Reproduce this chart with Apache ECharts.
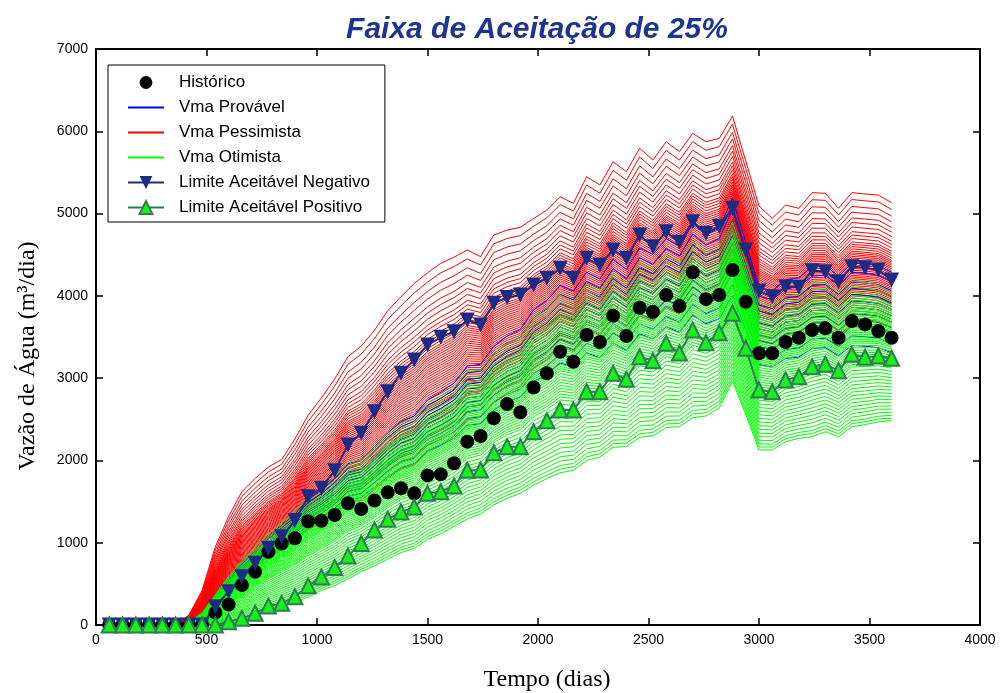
<!DOCTYPE html>
<html>
<head>
<meta charset="utf-8">
<title>Faixa de Aceitação de 25%</title>
<script src="https://cdn.jsdelivr.net/npm/echarts@6/dist/echarts.min.js"></script>
<style>
  html, body { margin: 0; padding: 0; background: #fff; }
  #grafico { width: 1004px; height: 693px; }
</style>
</head>
<body>
<div id="grafico"></div>
<script>
// tempo (dias), passo de 60 dias
var tempo = [60,120,180,240,300,360,420,480,540,600,660,720,780,840,900,960,1020,1080,1140,1200,
  1260,1320,1380,1440,1500,1560,1620,1680,1740,1800,1860,1920,1980,2040,2100,2160,2220,2280,2340,2400,
  2460,2520,2580,2640,2700,2760,2820,2880,2940,3000,3060,3120,3180,3240,3300,3360,3420,3480,3540,3600];

// dados observados
var historico = [0,0,0,0,0,0,0,0,150,250,486,646,890,990,1055,1260,1266,1337,1480,1410,
  1513,1612,1662,1600,1818,1831,1965,2228,2297,2512,2686,2585,2886,3058,3321,3200,3524,3440,3757,3512,
  3856,3807,4010,3876,4286,3960,4010,4314,3929,3302,3302,3439,3490,3584,3605,3491,3694,3653,3572,3491];

var limiteNegativo = [0,0,0,0,0,0,0,0,223,405,587,750,932,1073,1270,1559,1661,1875,2187,2329,
  2592,2835,3059,3220,3403,3496,3564,3706,3646,3909,3980,4010,4132,4213,4335,4213,4456,4375,4557,4456,
  4739,4597,4779,4650,4901,4760,4845,5064,4557,4060,3990,4111,4104,4306,4293,4172,4354,4342,4314,4192];

var limitePositivo = [0,0,0,0,0,0,0,0,0,40,81,142,230,263,344,476,584,700,840,990,
  1154,1286,1372,1433,1600,1620,1690,1880,1884,2094,2167,2167,2349,2483,2613,2613,2835,2835,3059,2986,
  3260,3212,3423,3305,3585,3431,3552,3788,3363,2856,2835,2977,3017,3139,3168,3091,3289,3253,3269,3241];

// curvas de referência das simulações
var pessimistaMax = [0,0,0,0,0,0,120,420,950,1320,1620,1780,1920,2010,2260,2550,2760,2990,3260,3390,
  3580,3820,3990,4150,4280,4395,4470,4557,4476,4739,4800,4833,4940,5043,5205,5124,5448,5347,5630,5509,
  5793,5650,5873,5752,5975,5873,5914,6185,5640,5092,4942,5104,5064,5254,5246,5064,5254,5238,5225,5132];

var provavelRef = [0,0,0,0,0,0,30,120,300,480,650,800,940,1060,1180,1340,1440,1560,1720,1760,
  1900,2050,2170,2230,2400,2480,2580,2760,2780,2970,3080,3150,3360,3460,3620,3560,3760,3690,3900,3790,
  4020,3950,4120,4040,4280,4160,4230,4550,4080,3600,3560,3680,3700,3820,3830,3720,3860,3850,3830,3760];

var otimistaMin = [0,0,0,0,0,0,0,0,0,0,40,130,180,230,280,340,420,480,560,650,
  720,800,880,930,1040,1110,1200,1290,1350,1460,1540,1600,1700,1780,1850,1880,2000,2040,2160,2170,
  2280,2300,2400,2410,2520,2540,2640,2960,2560,2127,2127,2228,2268,2288,2349,2288,2410,2435,2470,2483];

// posição de cada membro do conjunto dentro da sua faixa
var pesosPessimista = [-0.15,-0.1,-0.06,-0.03,0,0.02,0.04,0.06,0.08,0.1,0.115,0.13,0.145,0.16,0.175,
  0.19,0.205,0.22,0.235,0.25,0.265,0.28,0.295,0.31,0.325,0.34,0.355,0.37,0.385,0.4,0.415,0.43,0.445,
  0.46,0.475,0.49,0.51,0.53,0.55,0.57,0.6,0.63,0.66,0.7,0.74,0.78,0.83,0.88,0.94,1.0];
var pesosOtimista = [0,0.025,0.05,0.08,0.11,0.14,0.17,0.2,0.23,0.26,0.29,0.32,0.35,0.38,0.41,0.44,0.47,
  0.5,0.52,0.54,0.56,0.58,0.6,0.62,0.64,0.66,0.68,0.7,0.715,0.73,0.745,0.76,0.775,0.79,0.805,0.82,
  0.835,0.85,0.865,0.88,0.895,0.91,0.925,0.94,0.955,0.97,0.985,1.0,1.02,1.04,1.06,1.08,1.1,1.13,1.17,1.22];
var fatoresProvavel = [0.88,0.91,0.94,0.96,0.98,1.0,1.02,1.04,1.06,1.08,1.11,1.14];

var chartDom = document.getElementById('grafico');
var myChart = echarts.init(chartDom);

function pares(valores) {
  return tempo.map(function (t, i) { return [t, valores[i]]; });
}

function linha(nome, valores, cor) {
  return {
    name: nome,
    type: 'line',
    data: pares(valores),
    symbol: 'none',
    silent: true,
    lineStyle: { color: cor, width: 1 },
    itemStyle: { color: 'rgba(0,0,0,0)', borderWidth: 0 }
  };
}

var series = [];
pesosPessimista.forEach(function (w) {
  series.push(linha('Vma Pessimista', provavelRef.map(function (v, i) {
    return v + w * (pessimistaMax[i] - v);
  }), '#ff0000'));
});
fatoresProvavel.forEach(function (f) {
  series.push(linha('Vma Provável', provavelRef.map(function (v) { return v * f; }), '#0000ff'));
});
pesosOtimista.forEach(function (w) {
  series.push(linha('Vma Otimista', otimistaMin.map(function (v, i) {
    return v + w * (provavelRef[i] - v);
  }), '#00ff00'));
});

series.push({
  name: 'Histórico',
  type: 'line',
  data: pares(historico),
  symbol: 'circle',
  symbolSize: 14,
  showAllSymbol: true,
  lineStyle: { opacity: 0 },
  itemStyle: { color: '#000' }
});
series.push({
  name: 'Limite Aceitável Negativo',
  type: 'line',
  data: pares(limiteNegativo),
  symbol: 'triangle',
  symbolRotate: 180,
  symbolSize: 15,
  showAllSymbol: true,
  lineStyle: { color: '#1c2c84', width: 2 },
  itemStyle: { color: '#1c2c84' }
});
series.push({
  name: 'Limite Aceitável Positivo',
  type: 'line',
  data: pares(limitePositivo),
  symbol: 'triangle',
  symbolSize: 15,
  showAllSymbol: true,
  lineStyle: { color: '#2e7d52', width: 2 },
  itemStyle: { color: '#19f019', borderColor: '#2e7d52', borderWidth: 2 }
});

var fonte = '"Liberation Sans", Arial, sans-serif';
var rotulo = function (v) { return String(v); };
var eixoX = {
  type: 'value', min: 0, max: 4000, interval: 500,
  axisLine: { onZero: false, lineStyle: { color: '#000', width: 2 } },
  axisTick: { inside: true, length: 7, lineStyle: { color: '#000', width: 1.5 } },
  axisLabel: { color: '#000', fontSize: 14, fontFamily: fonte, margin: 8, formatter: rotulo },
  splitLine: { show: false }
};
var eixoY = {
  type: 'value', min: 0, max: 7000, interval: 1000,
  axisLine: { onZero: false, lineStyle: { color: '#000', width: 2 } },
  axisTick: { inside: true, length: 7, lineStyle: { color: '#000', width: 1.5 } },
  axisLabel: { color: '#000', fontSize: 14, fontFamily: fonte, margin: 8, formatter: rotulo },
  splitLine: { show: false }
};

var semSimbolo = { color: 'rgba(0,0,0,0)', borderWidth: 0 };

option = {
  animation: false,
  backgroundColor: '#fff',
  grid: { left: 96, right: 24, top: 49, bottom: 68, outerBoundsMode: 'none' },
  xAxis: [
    eixoX,
    Object.assign({}, eixoX, { position: 'top', axisLabel: { show: false } })
  ],
  yAxis: [
    eixoY,
    Object.assign({}, eixoY, { position: 'right', axisLabel: { show: false } })
  ],
  legend: {
    data: [
      { name: 'Histórico' },
      { name: 'Vma Provável', itemStyle: semSimbolo },
      { name: 'Vma Pessimista', itemStyle: semSimbolo },
      { name: 'Vma Otimista', itemStyle: semSimbolo },
      { name: 'Limite Aceitável Negativo' },
      { name: 'Limite Aceitável Positivo' }
    ],
    orient: 'vertical',
    left: 108,
    top: 65,
    padding: [9, 15, 6, 19],
    itemGap: 8,
    itemWidth: 36,
    itemHeight: 16,
    backgroundColor: '#fff',
    borderColor: '#000',
    borderWidth: 1,
    borderRadius: 0,
    selectedMode: false,
    lineStyle: { width: 2 },
    textStyle: { color: '#000', fontFamily: fonte, fontSize: 17, padding: [0, 0, 0, 10] }
  },
  graphic: [
    {
      type: 'text', x: 537, y: 30,
      style: { text: 'Faixa de Aceitação de 25%', font: 'italic bold 30px "Liberation Sans", Arial',
        fill: '#1d3591', align: 'center', verticalAlign: 'middle' }
    },
    {
      type: 'text', x: 28, y: 356, rotation: Math.PI / 2,
      style: { text: 'Vazão de Água (m³/dia)', font: '24px "Liberation Serif", "Times New Roman", serif',
        fill: '#000', align: 'center', verticalAlign: 'middle' }
    },
    {
      type: 'text', x: 547, y: 680,
      style: { text: 'Tempo (dias)', font: '24px "Liberation Serif", "Times New Roman", serif',
        fill: '#000', align: 'center', verticalAlign: 'middle' }
    }
  ],
  series: series
};

option && myChart.setOption(option);
</script>
</body>
</html>
